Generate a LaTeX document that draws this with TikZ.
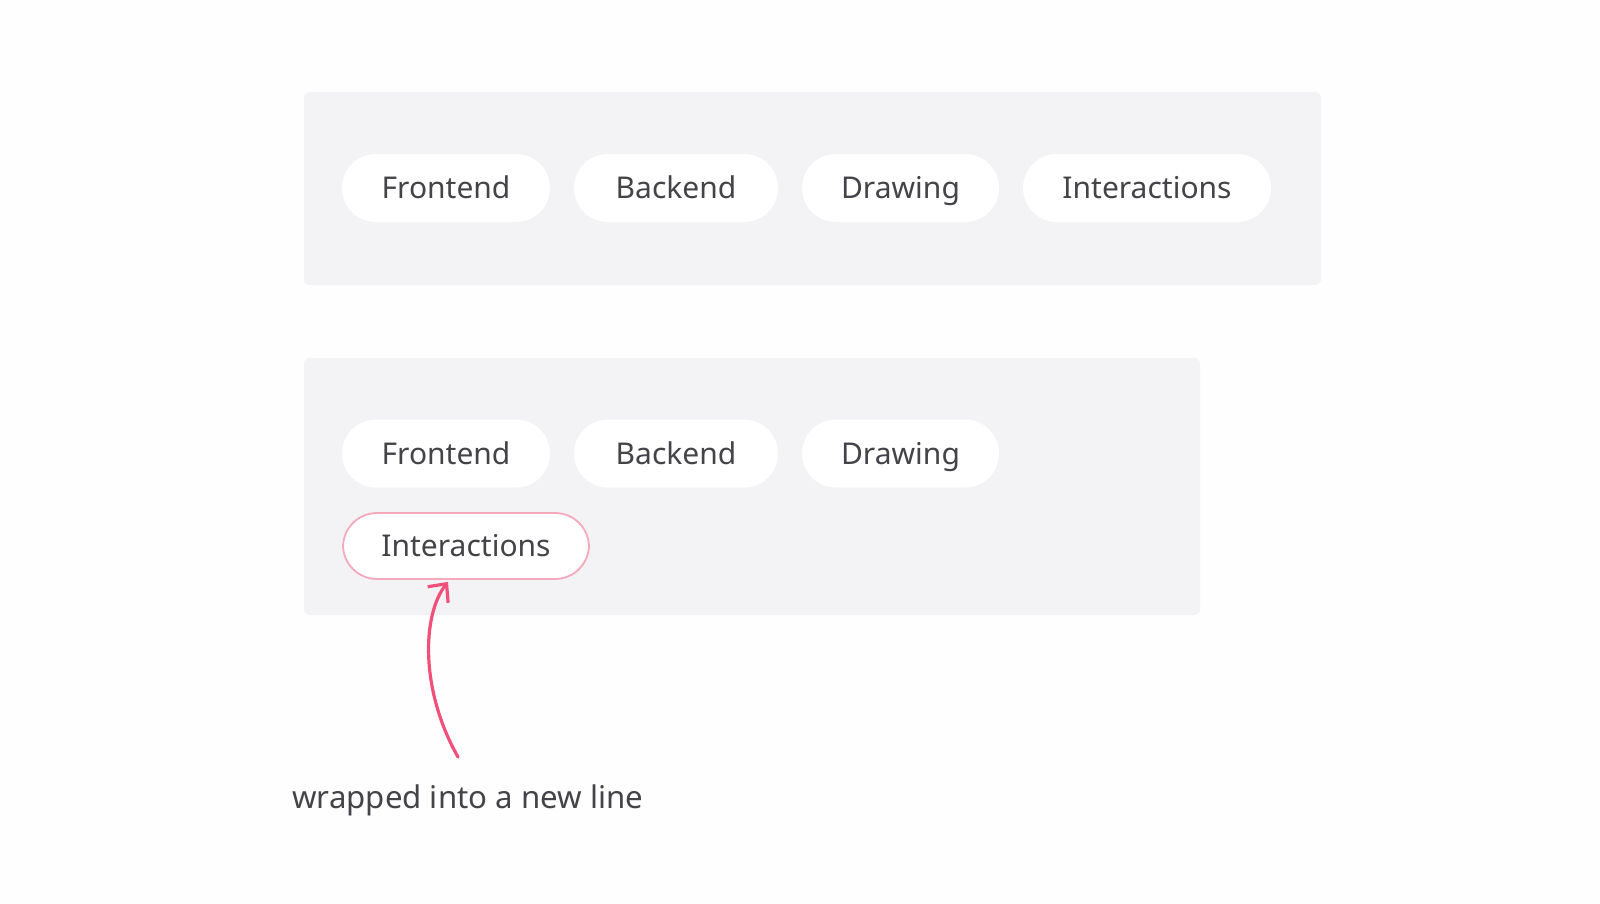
\documentclass[tikz,border=0pt]{standalone}
\usepackage{fontspec}
\setmainfont{Noto Sans}
\usetikzlibrary{arrows.meta}
\definecolor{bgc}{HTML}{FEFEFE}
\definecolor{panelc}{HTML}{F3F2F5}
\definecolor{txtc}{HTML}{444348}
\definecolor{pinkc}{HTML}{F0507A}
\definecolor{pinklt}{HTML}{F4A9BD}
\tikzset{
  panel/.style={fill=panelc, draw=none, rounded corners=3pt},
  pill/.style={fill=white, draw=none, rounded corners=17pt, text=txtc,
    font=\fontsize{15}{18}\selectfont, inner sep=0pt, anchor=center,
    text height=12.5pt, text depth=2pt},
  hl/.style={draw=pinklt, line width=0.9pt},
  lbl/.style={text=txtc, font=\fontsize{15.6}{18}\selectfont, inner sep=0pt},
  pointer/.style={draw=pinkc, line width=1.6pt, line cap=round,
    -{Straight Barb[length=7pt,width=13pt,line width=1.6pt]}}
}
\begin{document}
\begin{tikzpicture}[x=0.5pt,y=-0.5pt]
\useasboundingbox[fill=bgc] (0,0) rectangle (1600,904);
% panels
\node[panel, minimum width=508.5pt, minimum height=96.5pt, inner sep=0pt] (p1) at (812.5,188.5) {};
\node[panel, minimum width=448pt, minimum height=128.5pt, inner sep=0pt] (p2) at (752,486.5) {};
% top row
\node[pill, minimum width=104pt, minimum height=34pt] (a1) at (446,188) {Frontend};
\node[pill, minimum width=102pt, minimum height=34pt] (b1) at (676,188) {Backend};
\node[pill, minimum width=98.5pt, minimum height=34pt] (c1) at (900.5,188) {Drawing};
\node[pill, minimum width=124pt, minimum height=34pt] (d1) at (1147,188) {Interactions};
% bottom panel
\node[pill, minimum width=104pt, minimum height=34pt] (a2) at (446,453.5) {Frontend};
\node[pill, minimum width=102pt, minimum height=34pt] (b2) at (676,453.5) {Backend};
\node[pill, minimum width=98.5pt, minimum height=34pt] (c2) at (900.5,453.5) {Drawing};
\node[pill, hl, minimum width=123pt, minimum height=33pt] (d2) at (466,546) {Interactions};
% annotation
\node[lbl, anchor=base west] (note) at (292,808) {wrapped into a new line};
\coordinate (start) at (458,757);
\coordinate (tip) at ([xshift=-18*0.5pt, yshift=-1pt]d2.south);
\draw[pointer] (start) .. controls (420,690) and (422,615) .. (tip);
\end{tikzpicture}
\end{document}
